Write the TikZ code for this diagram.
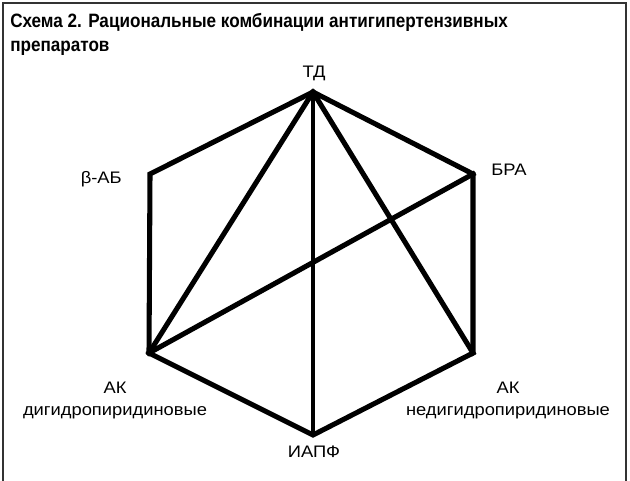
\documentclass[tikz,border=0pt]{standalone}
\usepackage{fontspec}
\setmainfont{Liberation Sans}
\newfontfamily\lblfont[FakeStretch=1.1]{Liberation Sans}
\newfontfamily\ttlfont[FakeStretch=0.885]{Liberation Sans}
\begin{document}
\begin{tikzpicture}[x=0.75pt,y=-0.75pt,
  edge/.style={line width=3.8pt,line join=miter,line cap=rect},
  thinedge/.style={line width=2.8pt},
  lbl/.style={font=\lblfont\fontsize{12.5}{16.5}\selectfont,align=center,inner sep=0pt,anchor=base},
  ttl/.style={font=\ttlfont\bfseries\fontsize{14.5}{18}\selectfont,inner sep=0pt,anchor=base west},
  frame/.style={draw=black!80,line width=1.5pt}]
\useasboundingbox (0,0) rectangle (630,480);
\draw[frame] (3,482) -- (3,3) -- (626,3) -- (626,482);
\node[ttl] (title1) at (10,27) {Схема 2. Рациональные комбинации антигипертензивных};
\node[ttl] (title2) at (10,51) {препаратов};
\coordinate (td) at (313,92);
\coordinate (bra) at (473,174);
\coordinate (bab) at (150,174);
\coordinate (akd) at (149,353);
\coordinate (akn) at (473,353);
\coordinate (iapf) at (313,435);
\draw[thinedge] (td) -- (iapf);
\draw[edge] (td) -- (akd);
\draw[edge] (td) -- (akn);
\draw[edge] (akd) -- (bra);
\draw[edge] (td) -- (bab) -- (akd) -- (iapf) -- (akn) -- (bra) -- cycle;
\node[lbl] (ltd) at (314,77) {ТД};
\node[lbl,anchor=base east] (lbab) at (122,183) {β-АБ};
\node[lbl] (lbra) at (509,175) {БРА};
\node[lbl] (lakd) at (115,415) {АК\\дигидропиридиновые};
\node[lbl] (lakn) at (508,415) {АК\\недигидропиридиновые};
\node[lbl] (liapf) at (314,457) {ИАПФ};
\end{tikzpicture}
\end{document}
